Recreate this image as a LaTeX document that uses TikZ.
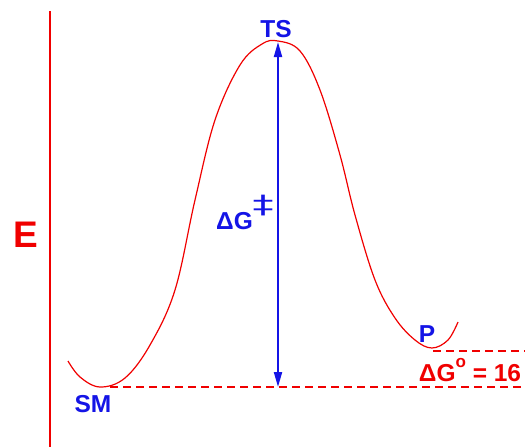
\documentclass[tikz,border=0pt]{standalone}
\usepackage{fontspec}
\setmainfont{Liberation Sans}
\newfontfamily\djv{DejaVu Sans}
\usetikzlibrary{arrows.meta}
\definecolor{pblue}{RGB}{20,20,230}
\definecolor{pred}{RGB}{240,0,0}
\tikzset{
  lbl/.style={font=\fontsize{24.5}{27}\selectfont\bfseries, inner sep=0pt},
  bluelbl/.style={lbl, text=pblue},
  redlbl/.style={lbl, text=pred},
  level/.style={pred, line width=1.4pt, dash pattern=on 8pt off 5pt},
  curve/.style={pred, line width=1.2pt},
  gap/.style={pblue, line width=2pt, {Triangle[length=15pt,width=8pt]}-{Triangle[length=15pt,width=8pt]}}
}
\begin{document}
\begin{tikzpicture}[x=1pt,y=-1pt]
\useasboundingbox (0,0) rectangle (530,447);
% axis
\draw[pred, line width=1.6pt] (50,11) -- (50,447);
\node[redlbl, font=\fontsize{37}{40}\selectfont\bfseries] (E) at (26,235) {E};
% curve
\draw[curve] plot[smooth, tension=0.6] coordinates {
 (68,361) (80,377) (100,387) (125,378) (150,345) (175,290) (195,200)
 (215,120) (240,65) (262,44) (278,41) (300,51) (320,90) (340,155)
 (355,215) (375,280) (395,318) (415,340) (432,348) (448,340) (458,322)};
% levels
\coordinate (smlev) at (110,387);
\coordinate (smend) at (525,387);
\coordinate (plev) at (433,351);
\coordinate (pend) at (525,351);
\draw[level] (smlev) -- (smend);
\draw[level] (plev) -- (pend);
% arrow
\coordinate (top) at (278,42);
\coordinate (bot) at (278,387);
\draw[gap] (top) -- (bot);
% labels
\node[bluelbl] (TS) at (276,29) {TS};
\node[bluelbl] (SM) at (93,404) {SM};
\node[bluelbl] (P) at (427,334) {P};
\node[bluelbl, anchor=base west] (dG) at (216,229) {ΔG};
\node[text=pblue, inner sep=0pt] (dd) at (263,206) {\scalebox{1.75}[1.05]{\djv\fontsize{24}{26}\selectfont ‡}};
\node[redlbl] (dGo) at (470,370) {ΔG\raisebox{0.55em}{\fontsize{17}{18}\selectfont o} = 16};
\end{tikzpicture}
\end{document}
